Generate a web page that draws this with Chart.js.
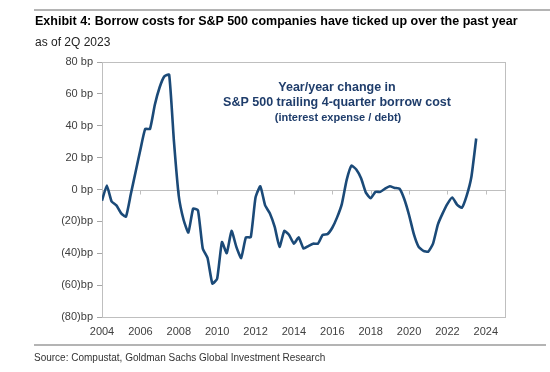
<!DOCTYPE html>
<html lang="en">
<head>
    <meta charset="UTF-8">
    <title>Exhibit 4: Borrow costs</title>
    <script src="https://cdn.jsdelivr.net/npm/chart.js"></script>
    <style>
        body {
            margin: 0;
            background: #fff;
            font-family: "Liberation Sans", Arial, sans-serif;
        }

        #wrap {
            position: relative;
            width: 550px;
            height: 372px;
            overflow: hidden;
        }

        canvas {
            position: absolute;
            left: 0;
            top: 0;
        }

        .rule {
            position: absolute;
            left: 34px;
            height: 0;
            border-top: 2px solid #b4b4b4;
        }

        .txt {
            position: absolute;
            left: 35px;
            white-space: nowrap;
        }

        #title {
            top: 14px;
            font-size: 12.5px;
            line-height: 15px;
            font-weight: bold;
            color: #000;
        }

        #sub {
            top: 35px;
            font-size: 12px;
            line-height: 14px;
            color: #222;
        }

        #source {
            top: 352px;
            left: 34px;
            font-size: 10px;
            line-height: 12px;
            color: #333;
        }
    </style>
</head>
<body>
    <div id="wrap">
        <canvas id="borrowChart" width="550" height="372"></canvas>
        <div class="rule" style="top: 9px; right: 0;"></div>
        <div id="title" class="txt">Exhibit 4: Borrow costs for S&amp;P 500 companies have ticked up over the past year</div>
        <div id="sub" class="txt">as of 2Q 2023</div>
        <div class="rule" style="top: 344px; width: 512px;"></div>
        <div id="source" class="txt">Source: Compustat, Goldman Sachs Global Investment Research</div>
    </div>

    <script>
        // quarterly, 4Q 2003 .. 2Q 2023, y/y change in bp
        const startYear = 2004;
        const quarterStep = 0.25;
        const borrowCostChange = [
            -7, 2.5, -7.5, -10, -15, -17, -3, 11, 25, 38,
            38, 53, 64, 71, 72, 30, -4, -19, -27, -12,
            -13, -37, -43, -59, -56, -33, -40, -26, -36, -43,
            -30, -30, -5, 2, -10, -15, -23.5, -36, -26, -28.5,
            -34, -30, -37, -35.5, -34, -34, -28.5, -28, -24, -17.5,
            -9, 6, 15, 12.5, 7, -2, -5.5, -1.5, -1.5, 0.5,
            2, 1, 0.5, -6, -16, -28, -36, -38.5, -39, -34,
            -22, -15, -9, -5, -9.5, -11.5, -4, 8, 32
        ];
        const xTickYears = [2004, 2006, 2008, 2010, 2012, 2014, 2016, 2018, 2020, 2022, 2024];
        const yTicks = [-80, -60, -40, -20, 0, 20, 40, 60, 80];
        const noteLines = [
            'Year/year change in',
            'S&P 500 trailing 4-quarter borrow cost',
            '(interest expense / debt)'
        ];

        const points = borrowCostChange.map((v, i) => ({ x: startYear + i * quarterStep, y: v }));

        function bpLabel(v) {
            return v < 0 ? '(' + (-v) + ')bp' : v + ' bp';
        }

        // box round the plot, the 0 bp axis line and its little ticks
        const framePlugin = {
            id: 'frame',
            beforeDatasetsDraw(chart) {
                const { ctx, chartArea: a, scales } = chart;
                const y0 = Math.round(scales.y.getPixelForValue(0)) + 0.5;
                ctx.save();
                ctx.strokeStyle = '#bfbfbf';
                ctx.lineWidth = 1;
                ctx.strokeRect(a.left + 0.5, a.top + 0.5, a.width, a.height);
                ctx.beginPath();
                ctx.moveTo(a.left, y0);
                ctx.lineTo(a.right, y0);
                xTickYears.forEach(v => {
                    const px = Math.round(scales.x.getPixelForValue(v)) + 0.5;
                    ctx.moveTo(px, y0);
                    ctx.lineTo(px, y0 + 4);
                });
                ctx.stroke();
                ctx.restore();
            }
        };

        const notePlugin = {
            id: 'note',
            afterDraw(chart) {
                const { ctx } = chart;
                ctx.save();
                ctx.fillStyle = '#1f3d6b';
                ctx.textAlign = 'center';
                ctx.textBaseline = 'middle';
                ctx.font = 'bold 12.5px "Liberation Sans", Arial, sans-serif';
                ctx.fillText(noteLines[0], 337, 88);
                ctx.fillText(noteLines[1], 337, 103);
                ctx.font = 'bold 11px "Liberation Sans", Arial, sans-serif';
                ctx.fillText(noteLines[2], 338, 118);
                ctx.restore();
            }
        };

        const ctx = document.getElementById('borrowChart').getContext('2d');
        new Chart(ctx, {
            type: 'line',
            data: {
                datasets: [{
                    data: points,
                    borderColor: '#1b4a78',
                    borderWidth: 2.6,
                    pointRadius: 0,
                    tension: 0.15,
                    fill: false
                }]
            },
            options: {
                responsive: false,
                animation: false,
                layout: {
                    padding: { left: 32, top: 62, right: 45, bottom: 35 }
                },
                plugins: {
                    legend: { display: false },
                    tooltip: { enabled: false }
                },
                scales: {
                    x: {
                        type: 'linear',
                        min: 2004,
                        max: 2025,
                        afterBuildTicks: s => { s.ticks = xTickYears.map(v => ({ value: v })); },
                        afterFit: s => { s.height = 20; },
                        grid: { display: false, drawTicks: false },
                        border: { display: false },
                        ticks: {
                            padding: 8,
                            maxRotation: 0,
                            autoSkip: false,
                            color: '#404040',
                            font: { family: '"Liberation Sans", Arial, sans-serif', size: 11 },
                            callback: v => String(v)
                        }
                    },
                    y: {
                        min: -80,
                        max: 80,
                        afterBuildTicks: s => { s.ticks = yTicks.map(v => ({ value: v })); },
                        afterFit: s => { s.width = 70; },
                        grid: {
                            drawOnChartArea: false,
                            drawTicks: true,
                            tickLength: 5,
                            color: '#a6a6a6'
                        },
                        border: { display: true, color: '#a6a6a6' },
                        ticks: {
                            padding: 4,
                            color: '#404040',
                            font: { family: '"Liberation Sans", Arial, sans-serif', size: 11 },
                            callback: v => bpLabel(v)
                        }
                    }
                }
            },
            plugins: [framePlugin, notePlugin]
        });
    </script>
</body>
</html>
